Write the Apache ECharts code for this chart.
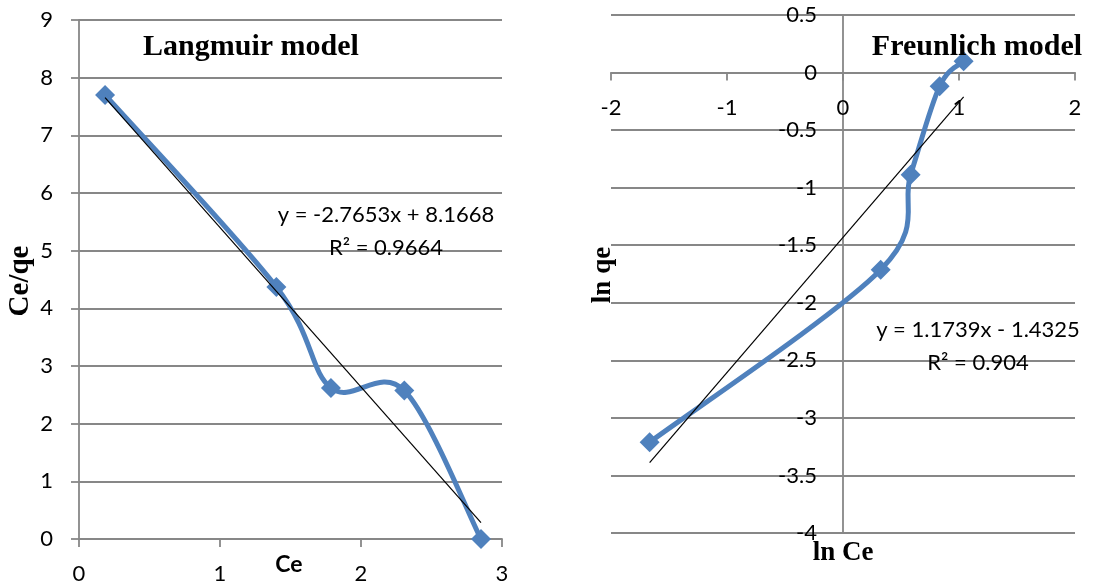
<!DOCTYPE html>
<html>
<head>
<meta charset="utf-8">
<script src="https://cdn.jsdelivr.net/npm/echarts@6/dist/echarts.min.js"></script>
<style>
  html, body { margin: 0; padding: 0; background: #ffffff; }
  #chart { width: 1095px; height: 585px; }
</style>
</head>
<body>
<div id="chart"></div>
<script>
// Langmuir isotherm: Ce vs Ce/qe
const langCe   = [0.185, 1.40, 1.787, 2.307, 2.851];
const langCeQe = [7.70, 4.37, 2.62, 2.575, 0.0];
const langSlope = -2.7653, langIntercept = 8.1668;
const langEq = ['y = -2.7653x + 8.1668', 'R² = 0.9664'];

// Freundlich isotherm: ln Ce vs ln qe
const freLnCe = [-1.667, 0.325, 0.583, 0.833, 1.04];
const freLnQe = [-3.212, -1.713, -0.887, -0.119, 0.098];
const freSlope = 1.1739, freIntercept = -1.4325;
const freEq = ['y = 1.1739x - 1.4325', 'R² = 0.904'];

// Axis ranges
const langX = { min: 0, max: 3, step: 1 };
const langY = { min: 0, max: 9, step: 1 };
const freX  = { min: -2, max: 2, step: 1 };
const freY  = { min: -4, max: 0.5, step: 0.5 };

const BLUE = '#4f81bd';
const GRID = '#878787';
const SANS = 'Lato, "Open Sans", sans-serif';
const SERIF = '"Liberation Serif", "DejaVu Serif", serif';

// Plot rectangles
const G0 = { left: 79, top: 20, width: 423, height: 519 };
const G1 = { left: 611, top: 15, width: 464, height: 518 };

const pairs = (xs, ys) => xs.map((x, i) => [x, ys[i]]);
const trend = (xs, m, b) => {
  const lo = Math.min(...xs), hi = Math.max(...xs);
  return [[lo, m * lo + b], [hi, m * hi + b]];
};

function xAxisCfg(idx, r, offset) {
  return {
    type: 'value', gridIndex: idx, min: r.min, max: r.max, interval: r.step,
    position: 'bottom', offset: offset || 0,
    axisLine: { show: true, onZero: false, lineStyle: { color: GRID, width: 1.8 } },
    axisTick: { show: true, inside: false, length: 8, lineStyle: { color: GRID, width: 1.8 } },
    axisLabel: { color: '#000', fontFamily: SANS, fontSize: 22, margin: 24 },
    splitLine: { show: false }
  };
}
function yAxisCfg(idx, r, offset) {
  return {
    type: 'value', gridIndex: idx, min: r.min, max: r.max, interval: r.step,
    position: 'left', offset: offset || 0,
    axisLine: { show: true, onZero: false, lineStyle: { color: GRID, width: 1.8 } },
    axisTick: { show: true, inside: false, length: 8, lineStyle: { color: GRID, width: 1.8 } },
    axisLabel: { color: '#000', fontFamily: SANS, fontSize: 22, margin: 26 },
    splitLine: { show: true, lineStyle: { color: GRID, width: 1.8 } }
  };
}

// Freundlich axes cross at the origin: shift them from the plot edges to zero
const freXOffset = -(G1.height * (0 - freY.min) / (freY.max - freY.min));
const freYOffset = -(G1.width * (0 - freX.min) / (freX.max - freX.min));

// Smoothed connecting curve: cubic Bezier through each pair of points,
// control points taken from the neighbouring points (Catmull-Rom style).
function curveSeries(xs, ys, axisIdx) {
  const n = xs.length;
  return {
    type: 'custom', xAxisIndex: axisIdx, yAxisIndex: axisIdx,
    data: pairs(xs, ys), encode: { x: 0, y: 1 }, z: 3,
    renderItem: function (params, api) {
      const i = params.dataIndex;
      if (i >= n - 1) return null;
      const P = k => {
        const j = Math.max(0, Math.min(n - 1, k));
        return api.coord([xs[j], ys[j]]);
      };
      const p0 = P(i - 1), p1 = P(i), p2 = P(i + 1), p3 = P(i + 2);
      return {
        type: 'bezierCurve',
        shape: {
          x1: p1[0], y1: p1[1], x2: p2[0], y2: p2[1],
          cpx1: p1[0] + (p2[0] - p0[0]) / 6, cpy1: p1[1] + (p2[1] - p0[1]) / 6,
          cpx2: p2[0] - (p3[0] - p1[0]) / 6, cpy2: p2[1] - (p3[1] - p1[1]) / 6
        },
        style: { stroke: BLUE, lineWidth: 5, fill: null, lineCap: 'round' }
      };
    }
  };
}

function markerSeries(xs, ys, axisIdx) {
  return {
    type: 'scatter', xAxisIndex: axisIdx, yAxisIndex: axisIdx,
    data: pairs(xs, ys), symbol: 'diamond', symbolSize: 20,
    itemStyle: { color: BLUE, opacity: 1 }, z: 4
  };
}

function trendSeries(xs, m, b, axisIdx) {
  return {
    type: 'line', xAxisIndex: axisIdx, yAxisIndex: axisIdx,
    data: trend(xs, m, b), symbol: 'none',
    lineStyle: { color: '#000', width: 1.2 }, z: 5
  };
}

function txt(x, y, s, font, rotation) {
  const el = {
    type: 'text', x: x, y: y, z: 100,
    style: { text: s, fill: '#000', font: font, textAlign: 'center', textVerticalAlign: 'middle' }
  };
  if (rotation) el.rotation = rotation;
  return el;
}

const chart = echarts.init(document.getElementById('chart'), null, { renderer: 'canvas' });

chart.setOption({
  backgroundColor: '#ffffff',
  animation: false,
  grid: [G0, G1],
  xAxis: [xAxisCfg(0, langX), xAxisCfg(1, freX, freXOffset)],
  yAxis: [yAxisCfg(0, langY), yAxisCfg(1, freY, freYOffset)],
  series: [
    curveSeries(langCe, langCeQe, 0),
    markerSeries(langCe, langCeQe, 0),
    trendSeries(langCe, langSlope, langIntercept, 0),
    curveSeries(freLnCe, freLnQe, 1),
    markerSeries(freLnCe, freLnQe, 1),
    trendSeries(freLnCe, freSlope, freIntercept, 1)
  ],
  graphic: [
    txt(251, 47, 'Langmuir model', 'bold 30px ' + SERIF),
    txt(977, 47, 'Freunlich model', 'bold 30px ' + SERIF),
    txt(386, 215, langEq[0], '22px ' + SANS),
    txt(386, 248, langEq[1], '22px ' + SANS),
    txt(978, 330, freEq[0], '22px ' + SANS),
    txt(978, 363, freEq[1], '22px ' + SANS),
    txt(21, 281, 'Ce/qe', 'bold 29px ' + SERIF, Math.PI / 2),
    txt(289, 565, 'Ce', 'bold 23px ' + SANS),
    txt(603, 275, 'ln qe', 'bold 27px ' + SERIF, Math.PI / 2),
    txt(843, 553, 'ln Ce', 'bold 27px ' + SERIF)
  ]
});
</script>
</body>
</html>
